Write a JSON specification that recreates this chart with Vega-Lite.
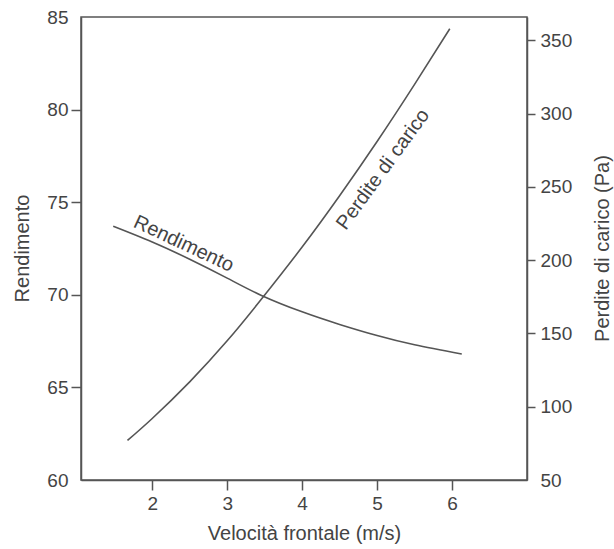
{
  "$schema": "https://vega.github.io/schema/vega-lite/v6.json",
  "autosize": "none",
  "padding": {"left": 81, "top": 17, "right": 87, "bottom": 69},
  "width": 446,
  "height": 463,
  "background": "white",
  "config": {
    "font": "Liberation Sans",
    "view": {"stroke": "#555", "strokeWidth": 1.5},
    "axis": {
      "grid": false,
      "domainColor": "#555",
      "domainWidth": 1.5,
      "tickColor": "#555",
      "tickWidth": 1.5,
      "labelColor": "#444",
      "titleColor": "#444",
      "labelFont": "Liberation Sans",
      "titleFont": "Liberation Sans",
      "labelFontSize": 19,
      "titleFontSize": 20,
      "titleFontWeight": "normal"
    }
  },
  "datasets": {
    "rendimento": [
      {"v": 1.48, "rendimento": 73.7},
      {"v": 2.0, "rendimento": 72.85},
      {"v": 2.5, "rendimento": 71.92},
      {"v": 3.0, "rendimento": 70.9},
      {"v": 3.45, "rendimento": 69.98},
      {"v": 4.0, "rendimento": 69.08},
      {"v": 4.5, "rendimento": 68.4},
      {"v": 5.0, "rendimento": 67.8},
      {"v": 5.5, "rendimento": 67.3},
      {"v": 6.13, "rendimento": 66.8}
    ],
    "perdite": [
      {"v": 1.67, "perdite": 77},
      {"v": 2.0, "perdite": 92},
      {"v": 2.5, "perdite": 117},
      {"v": 3.0, "perdite": 145},
      {"v": 3.45, "perdite": 173},
      {"v": 4.0, "perdite": 209},
      {"v": 4.5, "perdite": 244},
      {"v": 5.0, "perdite": 281},
      {"v": 5.5, "perdite": 320},
      {"v": 5.97, "perdite": 358}
    ],
    "etichetta_rendimento": [{"v": 2.42, "rendimento": 72.75, "testo": "Rendimento"}],
    "etichetta_perdite": [{"v": 5.08, "perdite": 262, "testo": "Perdite di carico"}]
  },
  "layer": [
    {
      "encoding": {
        "x": {
          "field": "v", "type": "quantitative",
          "scale": {"domain": [1.05, 7.0], "nice": false, "zero": false},
          "axis": {
            "values": [2, 3, 4, 5, 6],
            "format": "d",
            "title": "Velocità frontale (m/s)",
            "tickSize": 10,
            "labelPadding": 4,
            "titleY": 53,
            "titleBaseline": "middle"
          }
        },
        "y": {
          "field": "rendimento", "type": "quantitative",
          "scale": {"domain": [60, 85], "nice": false, "zero": false},
          "axis": {
            "orient": "left",
            "values": [60, 65, 70, 75, 80, 85],
            "title": "Rendimento",
            "tickSize": 10,
            "labelPadding": 3,
            "tickOpacity": {"condition": {"test": "datum.value == 60 || datum.value == 85", "value": 0}, "value": 1},
            "titleAngle": -90,
            "titleX": -59,
            "titleY": 231,
            "titleBaseline": "middle",
            "titleAlign": "center"
          }
        }
      },
      "layer": [
        {
          "data": {"name": "rendimento"},
          "mark": {"type": "line", "interpolate": "natural", "color": "#555", "strokeWidth": 1.6}
        },
        {
          "data": {"name": "etichetta_rendimento"},
          "mark": {"type": "text", "angle": 25, "fontSize": 20, "color": "#444", "font": "Liberation Sans", "align": "center", "baseline": "middle"},
          "encoding": {"text": {"field": "testo"}}
        }
      ]
    },
    {
      "encoding": {
        "x": {"field": "v", "type": "quantitative"},
        "y": {
          "field": "perdite", "type": "quantitative",
          "scale": {"domain": [50, 366], "nice": false, "zero": false},
          "axis": {
            "orient": "right",
            "values": [50, 100, 150, 200, 250, 300, 350],
            "title": "Perdite di carico (Pa)",
            "tickSize": 8,
            "labelPadding": 5,
            "tickOpacity": {"condition": {"test": "datum.value == 50", "value": 0}, "value": 1},
            "titleAngle": -90,
            "titleX": 75,
            "titleY": 231,
            "titleBaseline": "middle",
            "titleAlign": "center"
          }
        }
      },
      "layer": [
        {
          "data": {"name": "perdite"},
          "mark": {"type": "line", "interpolate": "natural", "color": "#555", "strokeWidth": 1.6}
        },
        {
          "data": {"name": "etichetta_perdite"},
          "mark": {"type": "text", "angle": -54, "fontSize": 20, "color": "#444", "font": "Liberation Sans", "align": "center", "baseline": "middle"},
          "encoding": {"text": {"field": "testo"}}
        }
      ]
    }
  ],
  "resolve": {"scale": {"y": "independent"}}
}
